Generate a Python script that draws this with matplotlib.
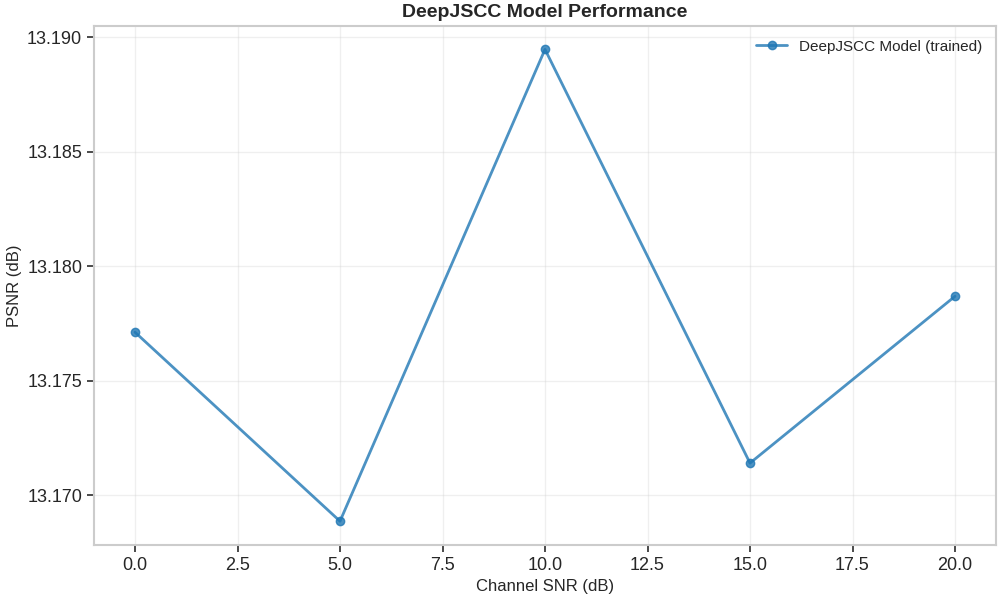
import matplotlib
matplotlib.use("Agg")
import matplotlib.pyplot as plt
import seaborn as sns

snr_db = [0, 5, 10, 15, 20]
psnr_db = [13.17712, 13.16886, 13.18948, 13.17140, 13.17869]

sns.set_theme(style="whitegrid", context="notebook")
plt.rcParams['font.family'] = ['Liberation Sans', 'DejaVu Sans']

fig, ax = plt.subplots(figsize=(10, 6), dpi=100)

ax.plot(snr_db, psnr_db, marker='o', color='#1f77b4', alpha=0.8,
        linewidth=2, markersize=6, label='DeepJSCC Model (trained)')

ax.set_title("DeepJSCC Model Performance", fontweight='bold', fontsize=14)
ax.set_xlabel("Channel SNR (dB)", fontsize=12)
ax.set_ylabel("PSNR (dB)", fontsize=12)
ax.tick_params(axis='both', labelsize=13, bottom=True, left=True, length=5, color='#333333')
ax.grid(True, alpha=0.3)
for s in ax.spines.values():
    s.set_color('#cccccc')
    s.set_linewidth(1.5)
ax.legend(loc='upper right', frameon=False, fontsize=11)

plt.subplots_adjust(left=0.094, right=0.996, top=0.957, bottom=0.092)
plt.savefig("out.png")
